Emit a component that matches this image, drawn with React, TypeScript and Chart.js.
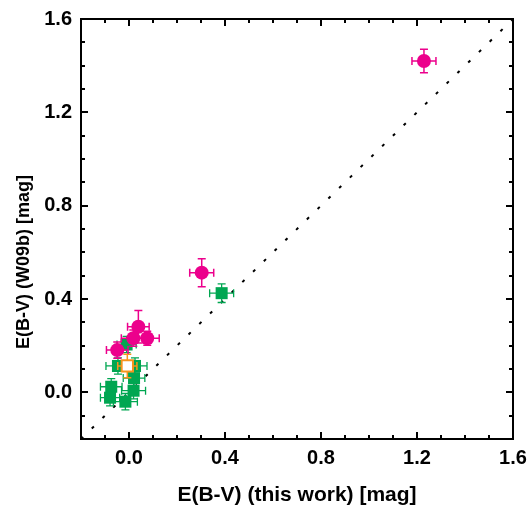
import { useEffect, useRef } from 'react';
import { Chart, registerables } from 'chart.js';
Chart.register(...registerables);

// Axis limits and ticks
const X_MIN = -0.2;
const X_MAX = 1.6;
const Y_MIN = -0.2;
const Y_MAX = 1.6;
const MAJOR_TICKS = [0.0, 0.4, 0.8, 1.2, 1.6];
const MINOR_STEP = 0.1;

const X_TITLE = 'E(B-V) (this work) [mag]';
const Y_TITLE = 'E(B-V) (W09b) [mag]';

// Magenta circles
const magentaX = [1.229, 0.303, 0.039, 0.076, 0.018, -0.049];
const magentaY = [1.42, 0.513, 0.281, 0.232, 0.232, 0.181];
const magentaXErr = [0.05, 0.05, 0.045, 0.05, 0.05, 0.045];
const magentaYErr = [0.05, 0.06, 0.07, 0.03, 0.035, 0.035];

// Orange open square
const orangeX = [-0.007];
const orangeY = [0.113];
const orangeXErr = [0.04];
const orangeYErr = [0.05];

// Green squares
const greenX = [0.386, -0.01, -0.046, 0.025, 0.021, -0.074, -0.079, 0.019, -0.015];
const greenY = [0.425, 0.205, 0.113, 0.113, 0.061, 0.024, -0.023, 0.007, -0.04];
const greenXErr = [0.05, 0.04, 0.05, 0.05, 0.045, 0.045, 0.04, 0.05, 0.05];
const greenYErr = [0.04, 0.035, 0.035, 0.035, 0.035, 0.035, 0.035, 0.035, 0.035];

const MAGENTA = '#EC008C';
const GREEN = '#00A651';
const ORANGE = '#F7941D';
const FONT = "'Liberation Sans', Arial, sans-serif";

const toPoints = (xs: number[], ys: number[]) => xs.map((x, i) => ({ x, y: ys[i] }));

const errorBarsPlugin = {
  id: 'errorBars',
  beforeDatasetDraw(chart: any, args: any) {
    const ds = chart.data.datasets[args.index];
    if (!ds.errX) return;
    const { ctx, chartArea } = chart;
    const xs = chart.scales.x;
    const ys = chart.scales.y;
    const cap = 4;
    ctx.save();
    ctx.beginPath();
    ctx.rect(chartArea.left, chartArea.top, chartArea.right - chartArea.left, chartArea.bottom - chartArea.top);
    ctx.clip();
    ctx.strokeStyle = ds.errColor;
    ctx.lineWidth = ds.errWidth;
    ds.data.forEach((p: any, i: number) => {
      const px = xs.getPixelForValue(p.x);
      const py = ys.getPixelForValue(p.y);
      const xl = xs.getPixelForValue(p.x - ds.errX[i]);
      const xr = xs.getPixelForValue(p.x + ds.errX[i]);
      const yt = ys.getPixelForValue(p.y + ds.errY[i]);
      const yb = ys.getPixelForValue(p.y - ds.errY[i]);
      ctx.beginPath();
      ctx.moveTo(xl, py); ctx.lineTo(xr, py);
      ctx.moveTo(xl, py - cap); ctx.lineTo(xl, py + cap);
      ctx.moveTo(xr, py - cap); ctx.lineTo(xr, py + cap);
      ctx.moveTo(px, yt); ctx.lineTo(px, yb);
      ctx.moveTo(px - cap, yt); ctx.lineTo(px + cap, yt);
      ctx.moveTo(px - cap, yb); ctx.lineTo(px + cap, yb);
      ctx.stroke();
    });
    ctx.restore();
  },
};

const framePlugin = {
  id: 'frame',
  afterDraw(chart: any) {
    const { ctx, chartArea } = chart;
    const { left, right, top, bottom } = chartArea;
    const xs = chart.scales.x;
    const ys = chart.scales.y;
    ctx.save();
    ctx.strokeStyle = '#000';
    ctx.lineWidth = 2;
    const isMajor = (v: number) => MAJOR_TICKS.some((m) => Math.abs(m - v) < 1e-6);
    const nX = Math.round((X_MAX - X_MIN) / MINOR_STEP);
    ctx.beginPath();
    for (let i = 1; i < nX; i++) {
      const v = X_MIN + i * MINOR_STEP;
      const len = isMajor(v) ? 7 : 4;
      const px = Math.round(xs.getPixelForValue(v));
      ctx.moveTo(px, bottom); ctx.lineTo(px, bottom - len);
      ctx.moveTo(px, top); ctx.lineTo(px, top + len);
    }
    const nY = Math.round((Y_MAX - Y_MIN) / MINOR_STEP);
    for (let i = 1; i < nY; i++) {
      const v = Y_MIN + i * MINOR_STEP;
      const len = isMajor(v) ? 7 : 4;
      const py = Math.round(ys.getPixelForValue(v));
      ctx.moveTo(left, py); ctx.lineTo(left + len, py);
      ctx.moveTo(right, py); ctx.lineTo(right - len, py);
    }
    ctx.stroke();
    ctx.strokeRect(left, top, right - left, bottom - top);

    // axis titles
    ctx.fillStyle = '#000';
    ctx.font = `bold 21px ${FONT}`;
    ctx.textAlign = 'center';
    ctx.textBaseline = 'alphabetic';
    ctx.fillText(X_TITLE, (left + right) / 2, 501);
    ctx.save();
    ctx.translate(29, 262);
    ctx.rotate(-Math.PI / 2);
    ctx.font = `bold 18px ${FONT}`;
    ctx.fillText(Y_TITLE, 0, 0);
    ctx.restore();
    ctx.restore();
  },
};

export default function App() {
  const ref = useRef<HTMLCanvasElement>(null);
  useEffect(() => {
    document.body.style.margin = '0';
    if (!ref.current) return;
    const setTicks = (scale: any) => {
      scale.ticks = MAJOR_TICKS.map((v) => ({ value: v }));
    };
    const chart = new Chart(ref.current, {
      type: 'scatter',
      data: {
        datasets: [
          {
            label: 'magenta',
            data: toPoints(magentaX, magentaY),
            pointStyle: 'circle',
            pointRadius: 7,
            pointHoverRadius: 7,
            backgroundColor: MAGENTA,
            borderColor: MAGENTA,
            borderWidth: 0,
            errX: magentaXErr,
            errY: magentaYErr,
            errColor: MAGENTA,
            errWidth: 1.5,
          } as any,
          {
            label: 'orange',
            data: toPoints(orangeX, orangeY),
            pointStyle: 'rect',
            pointRadius: 8,
            pointHoverRadius: 8,
            backgroundColor: '#fff',
            borderColor: ORANGE,
            borderWidth: 2,
            errX: orangeXErr,
            errY: orangeYErr,
            errColor: ORANGE,
            errWidth: 1.5,
          } as any,
          {
            label: 'green',
            data: toPoints(greenX, greenY),
            pointStyle: 'rect',
            pointRadius: 8.5,
            pointHoverRadius: 8.5,
            backgroundColor: GREEN,
            borderColor: GREEN,
            borderWidth: 0,
            errX: greenXErr,
            errY: greenYErr,
            errColor: GREEN,
            errWidth: 1.3,
          } as any,
          {
            type: 'line',
            label: 'one-to-one',
            data: [
              { x: X_MIN, y: Y_MIN },
              { x: X_MAX, y: Y_MAX },
            ],
            borderColor: '#000',
            borderWidth: 2,
            borderDash: [3, 12],
            pointRadius: 0,
            fill: false,
          } as any,
        ],
      },
      options: {
        animation: false,
        responsive: false,
        events: [],
        layout: { padding: { top: 19, right: 15, left: 0, bottom: 0 } },
        plugins: { legend: { display: false }, tooltip: { enabled: false } },
        scales: {
          x: {
            type: 'linear',
            min: X_MIN,
            max: X_MAX,
            afterBuildTicks: setTicks,
            afterFit: (s: any) => { s.height = 67; s.paddingLeft = 0; s.paddingRight = 0; },
            grid: { display: false, drawTicks: false },
            border: { display: false },
            ticks: {
              font: { family: FONT, weight: 'bold', size: 20 },
              color: '#000',
              padding: 7,
              maxRotation: 0,
              callback: (v: any) => Number(v).toFixed(1),
            },
          },
          y: {
            type: 'linear',
            min: Y_MIN,
            max: Y_MAX,
            afterBuildTicks: setTicks,
            afterFit: (s: any) => { s.width = 81; s.paddingTop = 0; s.paddingBottom = 0; },
            grid: { display: false, drawTicks: false },
            border: { display: false },
            ticks: {
              font: { family: FONT, weight: 'bold', size: 20 },
              color: '#000',
              padding: 9,
              callback: (v: any) => Number(v).toFixed(1),
            },
          },
        },
      },
      plugins: [errorBarsPlugin, framePlugin],
    });
    return () => chart.destroy();
  }, []);
  return (
    <div style={{ width: 528, height: 506 }}>
      <canvas ref={ref} width={528} height={506} />
    </div>
  );
}
